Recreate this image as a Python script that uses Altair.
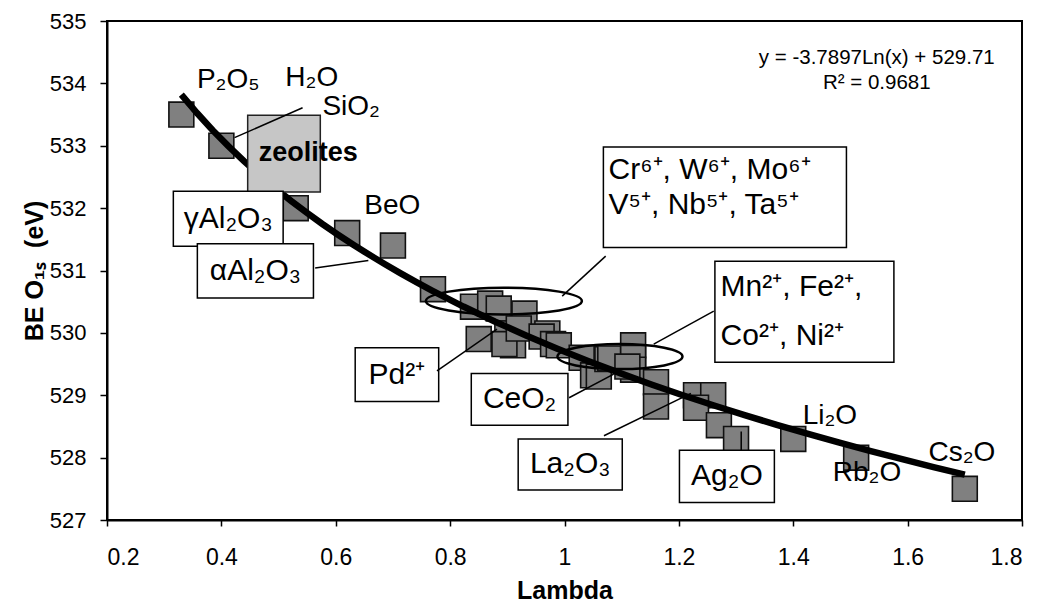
import altair as alt
import pandas as pd

# ---------------- data ----------------
lam = [0.33, 0.40, 0.53, 0.62, 0.70, 0.77, 0.84, 0.87, 0.885, 0.93,
       0.85, 0.90, 0.91, 0.895, 0.92, 0.97, 0.96, 0.98, 0.99, 1.03,
       1.05, 1.06, 1.075, 1.08, 1.12, 1.12, 1.12, 1.11, 1.16, 1.16,
       1.23, 1.26, 1.23, 1.27, 1.30, 1.40, 1.51, 1.70]
be = [533.5, 533.0, 532.0, 531.6, 531.4, 530.7, 530.42, 530.47, 530.39, 530.31,
      529.9, 529.99, 529.8, 529.82, 530.07, 529.99, 529.94, 529.82, 529.8, 529.6,
      529.32, 529.3, 529.58, 529.59, 529.8, 529.6, 529.41, 529.46, 529.21, 528.82,
      529.0, 529.0, 528.8, 528.52, 528.3, 528.3, 528.0, 527.5]

x_ticks = [0.2, 0.4, 0.6, 0.8, 1.0, 1.2, 1.4, 1.6, 1.8]
y_ticks = [527, 528, 529, 530, 531, 532, 533, 534, 535]

fit_extent = [0.33, 1.70]
equation_text = ["y = -3.7897Ln(x) + 529.71", "R² = 0.9681"]

# free labels
free_text = ["P₂O₅", "H₂O", "SiO₂", "BeO", "Li₂O", "Rb₂O", "Cs₂O"]
free_x = [0.412, 0.558, 0.627, 0.699, 1.464, 1.529, 1.695]
free_y = [534.06, 534.08, 533.62, 532.04, 528.67, 527.76, 528.08]

# boxed labels
box_text = ["γAl₂O₃", "αAl₂O₃", "Pd²⁺", "CeO₂", "La₂O₃", "Ag₂O"]
box_x1 = [0.316, 0.358, 0.634, 0.837, 0.919, 1.201]
box_x2 = [0.508, 0.561, 0.780, 1.006, 1.101, 1.367]
box_y1 = [532.27, 531.43, 529.76, 529.35, 528.30, 528.12]
box_y2 = [531.39, 530.56, 528.90, 528.52, 527.48, 527.28]

# two-line boxed labels
multi_text = ["Cr⁶⁺, W⁶⁺, Mo⁶⁺", "V⁵⁺, Nb⁵⁺, Ta⁵⁺", "Mn²⁺, Fe²⁺,", "Co²⁺, Ni²⁺"]
multi_x = [1.077, 1.077, 1.273, 1.273]
multi_y = [532.61, 532.05, 530.73, 529.95]
mbox_x1 = [1.068, 1.263]
mbox_x2 = [1.493, 1.576]
mbox_y1 = [532.98, 531.15]
mbox_y2 = [531.37, 529.53]

# zeolites region
zeo_x = [0.446, 0.573]
zeo_y = [532.26, 533.49]

# leader lines
lead_x1 = [0.542, 0.564, 1.072, 1.261, 0.777, 1.008, 1.069, 1.309]
lead_y1 = [533.61, 531.04, 531.23, 530.35, 529.39, 528.96, 528.35, 528.42]
lead_x2 = [0.423, 0.657, 0.996, 1.156, 0.882, 1.086, 1.221, 1.309]
lead_y2 = [533.13, 531.16, 530.59, 529.82, 530.06, 529.34, 529.03, 528.12]

# ellipses (centres)
ell_x = [0.894, 1.097]
ell_y = [530.51, 529.62]

FONT = "Liberation Sans"

xs = alt.Scale(domain=[0.2, 1.8], nice=False, zero=False)
ys = alt.Scale(domain=[527, 535], nice=False, zero=False)

pts = pd.DataFrame({"Lambda": lam, "BE": be})

x_axis = alt.Axis(values=x_ticks, format="~g", title="Lambda", grid=False,
                  labelFont=FONT, labelFontSize=23, labelColor="black",
                  titleFont=FONT, titleFontSize=25, titleFontWeight="bold", titleColor="black",
                  titleX=457.5, titleY=70, titleBaseline="middle", titleAlign="center",
                  tickColor="black", tickSize=6, tickWidth=1.5,
                  domainColor="black", domainWidth=2, labelPadding=20)
y_axis = alt.Axis(values=y_ticks, format="d", title="BE O₁ₛ\u00a0\u00a0(eV)", grid=False,
                  labelFont=FONT, labelFontSize=22, labelColor="black",
                  titleFont=FONT, titleFontSize=25, titleFontWeight="bold", titleColor="black",
                  titleX=-73, titleY=249.5, titleAngle=270, titleBaseline="middle",
                  titleAlign="center",
                  tickColor="black", tickSize=7, tickWidth=1.5,
                  domainColor="black", domainWidth=2, labelPadding=14)

squares = alt.Chart(pts).mark_square(size=620, filled=True, color="#808080",
                                     stroke="#111111", strokeWidth=1.6, opacity=1).encode(
    x=alt.X("Lambda:Q", scale=xs, axis=x_axis),
    y=alt.Y("BE:Q", scale=ys, axis=y_axis),
)

trend = alt.Chart(pts).transform_regression(
    "Lambda", "BE", method="log", extent=fit_extent
).mark_line(color="black", strokeWidth=6.5).encode(
    x=alt.X("Lambda:Q", scale=xs),
    y=alt.Y("BE:Q", scale=ys),
)

zeo = alt.Chart(pd.DataFrame({"x1": [zeo_x[0]], "x2": [zeo_x[1]],
                              "y1": [zeo_y[0]], "y2": [zeo_y[1]]})).mark_rect(
    fill="#c6c6c6", stroke="#222222", strokeWidth=1.5).encode(
    x=alt.X("x1:Q", scale=xs), x2="x2:Q",
    y=alt.Y("y1:Q", scale=ys), y2="y2:Q")

zeo_text = alt.Chart(pd.DataFrame({"x": [0.552], "y": [532.88], "t": ["zeolites"]})).mark_text(
    font=FONT, fontSize=27, fontWeight="bold", color="black", align="center", baseline="middle").encode(
    x=alt.X("x:Q", scale=xs), y=alt.Y("y:Q", scale=ys), text="t:N")

boxes_df = pd.DataFrame({"x1": box_x1 + mbox_x1, "x2": box_x2 + mbox_x2,
                         "y1": box_y1 + mbox_y1, "y2": box_y2 + mbox_y2})
boxes = alt.Chart(boxes_df).mark_rect(fill="white", stroke="black", strokeWidth=1.5).encode(
    x=alt.X("x1:Q", scale=xs), x2="x2:Q",
    y=alt.Y("y1:Q", scale=ys), y2="y2:Q")

lead_df = pd.DataFrame({"x1": lead_x1, "y1": lead_y1, "x2": lead_x2, "y2": lead_y2})
leaders = alt.Chart(lead_df).mark_rule(color="black", strokeWidth=1.5).encode(
    x=alt.X("x1:Q", scale=xs), y=alt.Y("y1:Q", scale=ys), x2="x2:Q", y2="y2:Q")


def ellipse_path(r):
    k = 0.5523
    return (f"M1,0 C1,{k*r:.4f} {k:.4f},{r:.4f} 0,{r:.4f} "
            f"C{-k:.4f},{r:.4f} -1,{k*r:.4f} -1,0 "
            f"C-1,{-k*r:.4f} {-k:.4f},{-r:.4f} 0,{-r:.4f} "
            f"C{k:.4f},{-r:.4f} 1,{-k*r:.4f} 1,0 Z")


ell1 = alt.Chart(pd.DataFrame({"x": [ell_x[0]], "y": [ell_y[0]]})).mark_point(
    shape=ellipse_path(0.171), size=156 * 156, filled=False, stroke="black",
    strokeWidth=2.5, opacity=1).encode(x=alt.X("x:Q", scale=xs), y=alt.Y("y:Q", scale=ys))
ell2 = alt.Chart(pd.DataFrame({"x": [ell_x[1]], "y": [ell_y[1]]})).mark_point(
    shape=ellipse_path(0.2), size=125 * 125, filled=False, stroke="black",
    strokeWidth=2.5, opacity=1).encode(x=alt.X("x:Q", scale=xs), y=alt.Y("y:Q", scale=ys))

free = alt.Chart(pd.DataFrame({"x": free_x, "y": free_y, "t": free_text})).mark_text(
    font=FONT, fontSize=28, color="black", align="center", baseline="middle").encode(
    x=alt.X("x:Q", scale=xs), y=alt.Y("y:Q", scale=ys), text="t:N")

box_labels = alt.Chart(pd.DataFrame({
    "x": [(a + b) / 2 for a, b in zip(box_x1, box_x2)],
    "y": [(a + b) / 2 for a, b in zip(box_y1, box_y2)],
    "t": box_text})).mark_text(
    font=FONT, fontSize=30, color="black", align="center", baseline="middle").encode(
    x=alt.X("x:Q", scale=xs), y=alt.Y("y:Q", scale=ys), text="t:N")

multi_labels = alt.Chart(pd.DataFrame({"x": multi_x, "y": multi_y, "t": multi_text})).mark_text(
    font=FONT, fontSize=30, color="black", align="left", baseline="middle").encode(
    x=alt.X("x:Q", scale=xs), y=alt.Y("y:Q", scale=ys), text="t:N")

eq = alt.Chart(pd.DataFrame({"x": [1.546, 1.546], "y": [534.41, 534.0], "t": equation_text})).mark_text(
    font=FONT, fontSize=20.5, color="black", align="center", baseline="middle").encode(
    x=alt.X("x:Q", scale=xs), y=alt.Y("y:Q", scale=ys), text="t:N")

chart = alt.layer(
    squares, trend, zeo, boxes, leaders, zeo_text, ell1, ell2,
    free, box_labels, multi_labels, eq
).properties(
    width=915, height=499,
    autosize=alt.AutoSizeParams(type="none"),
    padding={"left": 99, "top": 13, "right": 10, "bottom": 84},
    background="white",
).configure_view(stroke="black", strokeWidth=2)

chart.save("out.html", embed_options={"renderer": "svg", "actions": False})
